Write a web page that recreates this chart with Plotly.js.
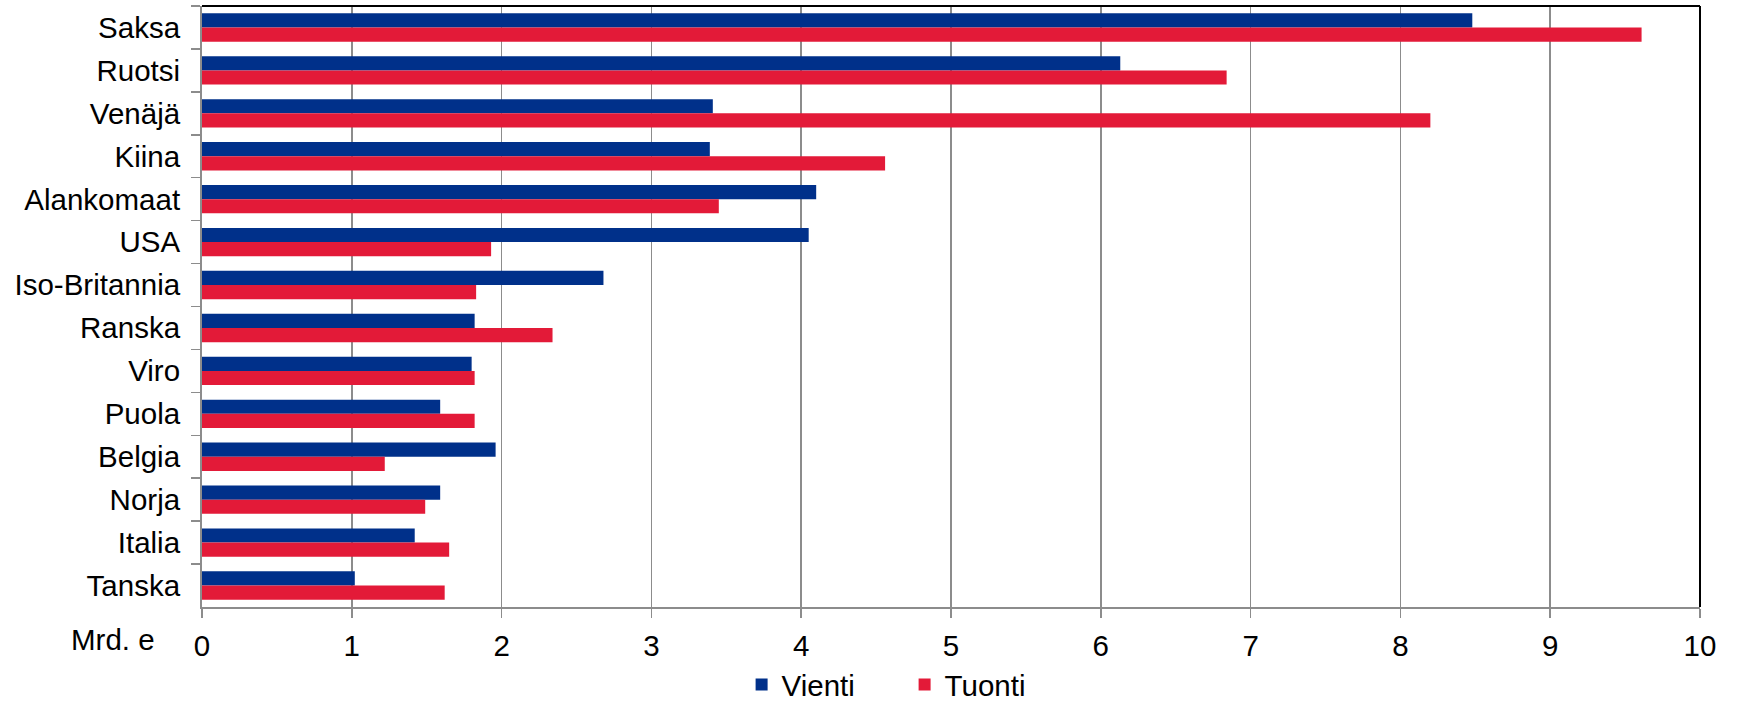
<!DOCTYPE html>
<html>
<head>
<meta charset="utf-8">
<script src="https://cdn.plot.ly/plotly-3.0.1.min.js"></script>
<style>html,body{margin:0;padding:0;background:#fff;}#chart{width:1738px;height:701px;}</style>
</head>
<body>
<div id="chart"></div>
<script>
const countries = ["Saksa","Ruotsi","Venäjä","Kiina","Alankomaat","USA","Iso-Britannia","Ranska","Viro","Puola","Belgia","Norja","Italia","Tanska"];
const vienti = [8.48,6.13,3.41,3.39,4.10,4.05,2.68,1.82,1.80,1.59,1.96,1.59,1.42,1.02];
const tuonti = [9.61,6.84,8.20,4.56,3.45,1.93,1.83,2.34,1.82,1.82,1.22,1.49,1.65,1.62];
const xTicks = [0,1,2,3,4,5,6,7,8,9,10];
const unitLabel = "Mrd. e";

const FONT = "Liberation Sans, Arial, sans-serif";
const FS = 29.5;
const traces = [
  {type:"bar", orientation:"h", name:"Vienti", y:countries, x:vienti,
   marker:{color:"#00308a", line:{width:0}}},
  {type:"bar", orientation:"h", name:"Tuonti", y:countries, x:tuonti,
   marker:{color:"#e31a38", line:{width:0}}}
];
const layout = {
  width:1738, height:701,
  margin:{l:202, r:38, t:6, b:94, autoexpand:false},
  paper_bgcolor:"#fff", plot_bgcolor:"#fff",
  font:{family:FONT, size:FS, color:"#000"},
  barmode:"group", bargap:0.34, bargroupgap:0,
  showlegend:true,
  legend:{orientation:"h", xref:"container", yref:"container",
          x:0.4267, xanchor:"left", y:0.023, yanchor:"middle",
          font:{family:FONT, size:FS, color:"#000"}, traceorder:"normal",
          itemwidth:30, entrywidth:118, bgcolor:"rgba(0,0,0,0)"},
  xaxis:{range:[0,10], tickvals:xTicks, ticktext:xTicks.map(String),
         showgrid:true, gridcolor:"#8c8c8c", gridwidth:1.5,
         showline:true, linecolor:"#8c8c8c", linewidth:2,
         ticks:"outside", ticklen:9, tickcolor:"#8c8c8c", tickwidth:1.5,
         ticklabelstandoff:3, zeroline:false, fixedrange:true},
  yaxis:{type:"category", autorange:"reversed", tickson:"boundaries",
         showgrid:false, showline:true, linecolor:"#8c8c8c", linewidth:2,
         ticks:"outside", ticklen:9, tickcolor:"#8c8c8c", tickwidth:1.5,
         ticklabelstandoff:14, zeroline:false, fixedrange:true},
  shapes:[
    {type:"line", xref:"paper", yref:"paper", x0:0, x1:1, y0:1, y1:1, line:{color:"#000", width:2}},
    {type:"line", xref:"paper", yref:"paper", x0:1, x1:1, y0:0, y1:1, line:{color:"#000", width:2}}
  ],
  annotations:[
    {text:unitLabel, xref:"paper", yref:"paper", x:-0.03, y:-0.054, xanchor:"right", yanchor:"middle",
     showarrow:false, font:{family:FONT, size:FS, color:"#000"}}
  ]
};
Plotly.newPlot("chart", traces, layout, {displayModeBar:false, staticPlot:true});
</script>
</body>
</html>
